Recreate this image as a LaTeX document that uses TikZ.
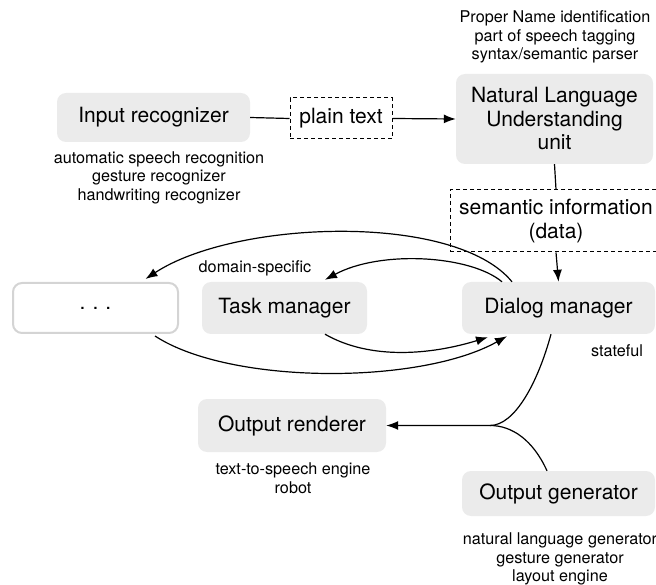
\documentclass[tikz,border=0pt]{standalone}
\usepackage{fontspec}
\setmainfont{TeX Gyre Heros}
\usetikzlibrary{arrows.meta}
\definecolor{boxgray}{HTML}{EBEBEB}
\definecolor{bordergray}{HTML}{D4D4D4}
\begin{document}
\begin{tikzpicture}[x=1pt,y=-1pt,
  box/.style={rounded corners=9pt, fill=boxgray, draw=none, align=center, inner sep=0pt,
    font=\fontsize{21}{23.5}\selectfont},
  dbox/.style={draw=black, line width=1pt, dash pattern=on 4pt off 3pt, align=center, inner sep=0pt,
    font=\fontsize{21}{23.5}\selectfont},
  note/.style={align=center, inner sep=0pt, font=\fontsize{16.2}{18.5}\selectfont},
  conn/.style={line width=1.2pt},
  arr/.style={line width=1.2pt, -{Latex[length=12pt,width=9pt]}}
]
\useasboundingbox (0,0) rectangle (656,585);

% nodes
\node[box, minimum width=193pt, minimum height=49pt] (inp) at (153.5,117.5) {Input recognizer};
\node[dbox, minimum width=102pt, minimum height=41pt] (plain) at (341,118.5) {plain text};
\node[box, minimum width=197pt, minimum height=90pt] (nlu) at (554.5,119) {Natural Language\\Understanding\\unit};
\node[dbox, minimum width=212pt, minimum height=62pt] (sem) at (556,221) {semantic information\\(data)};
\node[box, minimum width=193pt, minimum height=52pt] (dlg) at (558.5,308) {Dialog manager};
\node[box, minimum width=165pt, minimum height=52pt] (task) at (284.5,308) {Task manager};
\node[box, fill=white, draw=bordergray, line width=2pt, minimum width=165pt, minimum height=50pt] (dots) at (95.5,308) {.\,\,.\,\,.};
\node[box, minimum width=188pt, minimum height=53pt] (rend) at (292,425.5) {Output renderer};
\node[box, minimum width=193pt, minimum height=45pt] (gen) at (558.5,493.5) {Output generator};

% annotations
\node[note] (nnlu) at (555,37) {Proper Name identification\\part of speech tagging\\syntax/semantic parser};
\node[note] (ninp) at (159,177.5) {automatic speech recognition\\gesture recognizer\\handwriting recognizer};
\node[note] (nstate) at (617,351) {stateful};
\node[note] (ndom) at (255,268) {domain-specific};
\node[note] (nrend) at (293,478) {text-to-speech engine\\robot};
\node[note] (ngen) at (560,559) {natural language generator\\gesture generator\\layout engine};

% connectors
\draw[conn] (inp.east) -- (plain.west);
\draw[arr] (plain.east) -- (nlu.west);
\draw[conn] (nlu.south) -- (sem.north);
\draw[arr] (sem.south) -- (dlg.north);

\draw[arr] ([xshift=-46.5pt]dlg.north) .. controls (455,212) and (235,220) .. ([xshift=50pt,yshift=3pt]dots.north);
\draw[arr] ([xshift=-56.5pt]dlg.north) .. controls (470,255) and (380,250) .. ([xshift=40.5pt,yshift=2pt]task.north);
\draw[arr] ([xshift=59.5pt,yshift=-2pt]dots.south) .. controls (230,385) and (420,385) .. ([xshift=-51.5pt,yshift=-2pt]dlg.south);
\draw[arr] ([xshift=40.5pt]task.south) .. controls (370,360) and (430,355) .. ([xshift=-70.5pt,yshift=-3pt]dlg.south);

\coordinate (junc) at (490,425.5);
\draw[arr] ([xshift=-7.5pt]dlg.south) .. controls (538,382) and (515,425.5) .. (junc) -- (rend.east);
\draw[conn] ([xshift=-11.5pt]gen.north) .. controls (533,440) and (512,425.5) .. (junc);
\end{tikzpicture}
\end{document}
